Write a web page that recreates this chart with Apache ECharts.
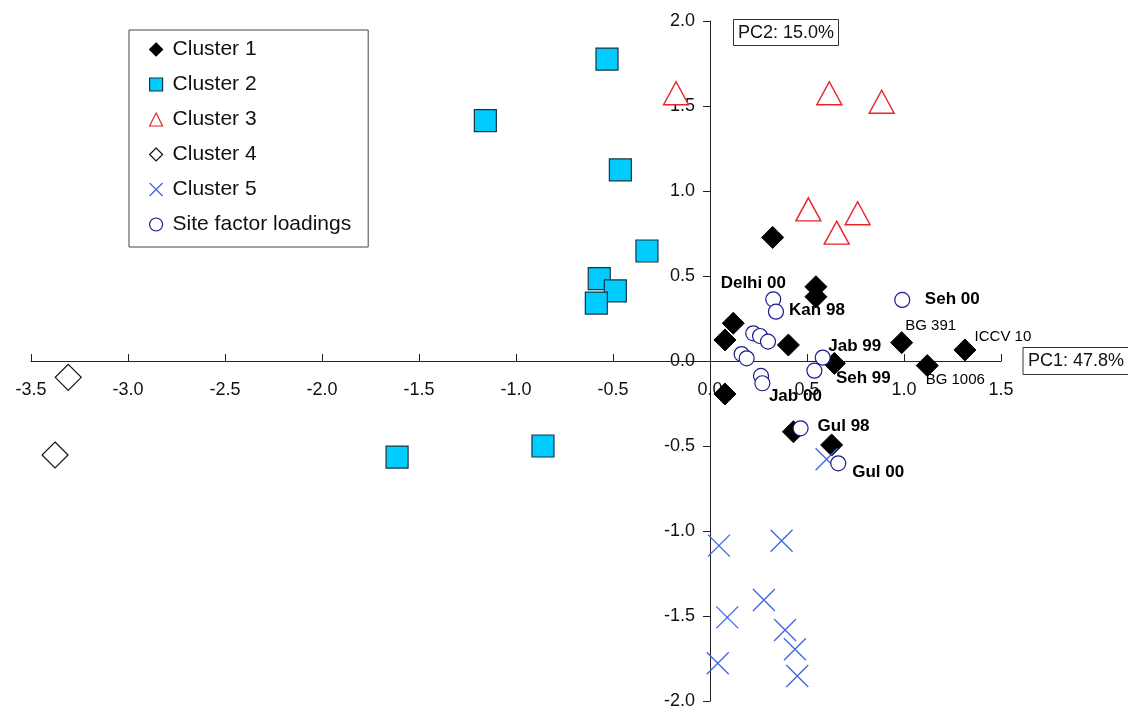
<!DOCTYPE html>
<html>
<head>
<meta charset="utf-8">
<script src="https://cdn.jsdelivr.net/npm/echarts@6/dist/echarts.min.js"></script>
<style>
  html, body { margin: 0; padding: 0; background: #fff; }
  #chart { width: 1128px; height: 708px; }
</style>
</head>
<body>
<div id="chart"></div>
<script>
// PCA scores [PC1, PC2]
const cluster1 = [
  [0.323, 0.727], [0.546, 0.437], [0.546, 0.378], [0.12, 0.222], [0.077, 0.124],
  [0.404, 0.094], [0.641, -0.014], [0.988, 0.108], [1.314, 0.065], [1.12, -0.027],
  [0.077, -0.194], [0.43, -0.416], [0.627, -0.494]
];
const cluster1Names = ['', '', '', '', '', '', '', 'BG 391', 'ICCV 10', 'BG 1006', '', '', ''];

const cluster2 = [
  [-0.531, 1.776], [-1.158, 1.414], [-0.462, 1.124], [-0.325, 0.647], [-0.571, 0.484],
  [-0.488, 0.412], [-0.586, 0.341], [-1.613, -0.565], [-0.861, -0.5]
];

const cluster3 = [
  [-0.175, 1.575], [0.615, 1.575], [0.885, 1.525], [0.507, 0.892], [0.653, 0.755], [0.761, 0.869]
];

const cluster4 = [[-3.308, -0.096], [-3.376, -0.553]];

const cluster5 = [
  [0.046, -1.086], [0.369, -1.057], [0.089, -1.508], [0.278, -1.406], [0.387, -1.582],
  [0.438, -1.696], [0.04, -1.778], [0.45, -1.853], [0.601, -0.578]
];

const siteLoadings = [
  [0.326, 0.363], [0.34, 0.29], [0.991, 0.359], [0.223, 0.163], [0.258, 0.147],
  [0.299, 0.114], [0.163, 0.041], [0.189, 0.016], [0.263, -0.088], [0.27, -0.131],
  [0.581, 0.02], [0.538, -0.057], [0.467, -0.396], [0.661, -0.602]
];
const siteNames = ['Delhi 00', 'Kan 98', 'Seh 00', '', '', '', '', '', '', 'Jab 00',
  'Jab 99', 'Seh 99', 'Gul 98', 'Gul 00'];

const xRange = [-3.5, 1.5];
const yRange = [-2, 2];
const tickStep = 0.5;

// where each point label sits relative to its marker (px)
const labelOffset = {
  'Delhi 00': [-20, -16], 'Kan 98': [41, -1], 'Seh 00': [50, -1],
  'BG 391': [29, -17], 'ICCV 10': [38, -13], 'BG 1006': [28, 14],
  'Jab 99': [32, -11], 'Seh 99': [49, 8], 'Jab 00': [33, 13],
  'Gul 98': [43, -2], 'Gul 00': [40, 9]
};

const FONT = '"Liberation Sans", Arial, Helvetica, sans-serif';
const grid = { left: 31, right: 127, top: 21, bottom: 7 };

function toItems(points, names, bold) {
  return points.map((p, i) => {
    const name = names ? names[i] : '';
    const item = { value: p };
    if (name) {
      item.name = name;
      item.label = {
        show: true,
        position: 'inside',
        formatter: name,
        offset: labelOffset[name],
        color: '#000',
        fontFamily: FONT,
        fontSize: bold ? 17 : 15,
        fontWeight: bold ? 'bold' : 'normal'
      };
    }
    return item;
  });
}

const el = document.getElementById('chart');
const chart = echarts.init(el);

// axes cross at the origin: shift each axis from the grid edge to the zero line
const gridW = el.clientWidth - grid.left - grid.right;
const gridH = el.clientHeight - grid.top - grid.bottom;
const xAxisShift = -gridH * (0 - yRange[0]) / (yRange[1] - yRange[0]);
const yAxisShift = -gridW * (0 - xRange[0]) / (xRange[1] - xRange[0]);

const boxText = {
  fontSize: 18,
  color: '#111',
  fontFamily: FONT,
  borderColor: '#333',
  borderWidth: 1,
  padding: [5, 5, 4, 5]
};

const option = {
  animation: false,
  backgroundColor: '#fff',
  textStyle: { fontFamily: FONT },
  title: {
    text: 'PC2: 15.0%',
    left: 733,
    top: 19,
    padding: [5, 5, 4, 5],
    borderColor: '#333',
    borderWidth: 1,
    textStyle: { fontSize: 18, fontWeight: 'normal', color: '#111', fontFamily: FONT }
  },
  grid: Object.assign({ containLabel: false, outerBoundsMode: 'none' }, grid),
  legend: {
    orient: 'vertical',
    left: 129,
    top: 30,
    padding: [9, 17, 12, 20],
    itemWidth: 13,
    itemHeight: 13,
    itemGap: 14,
    borderColor: '#444',
    borderWidth: 1,
    itemStyle: { borderWidth: 1.2 },
    textStyle: { fontSize: 21, color: '#111', fontFamily: FONT, lineHeight: 20, padding: [0, 0, 0, 5] },
    data: ['Cluster 1', 'Cluster 2', 'Cluster 3', 'Cluster 4', 'Cluster 5', 'Site factor loadings']
  },
  xAxis: {
    type: 'value',
    min: xRange[0],
    max: xRange[1],
    interval: tickStep,
    position: 'bottom',
    offset: xAxisShift,
    axisLine: { onZero: false, lineStyle: { color: '#222', width: 1 } },
    axisTick: { inside: true, length: 7, lineStyle: { color: '#222' } },
    axisLabel: {
      margin: 20,
      fontSize: 18,
      color: '#111',
      fontFamily: FONT,
      formatter: (v) => v.toFixed(1)
    },
    splitLine: { show: false },
    name: 'PC1: 47.8%',
    nameLocation: 'end',
    nameGap: 22,
    nameTextStyle: boxText
  },
  yAxis: {
    type: 'value',
    min: yRange[0],
    max: yRange[1],
    interval: tickStep,
    position: 'left',
    offset: yAxisShift,
    axisLine: { onZero: false, lineStyle: { color: '#222', width: 1 } },
    axisTick: { inside: false, length: 7, lineStyle: { color: '#222' } },
    axisLabel: {
      margin: 15,
      fontSize: 18,
      color: '#111',
      fontFamily: FONT,
      formatter: (v) => v.toFixed(1)
    },
    splitLine: { show: false }
  },
  series: [
    {
      name: 'Cluster 1',
      type: 'scatter',
      symbol: 'diamond',
      symbolSize: 22,
      itemStyle: { color: '#000', borderColor: '#000', borderWidth: 1, opacity: 1 },
      data: toItems(cluster1, cluster1Names, false)
    },
    {
      name: 'Cluster 2',
      type: 'scatter',
      symbol: 'rect',
      symbolSize: 22,
      itemStyle: { color: '#00ccff', borderColor: '#1b3340', borderWidth: 1.2, opacity: 1 },
      data: toItems(cluster2)
    },
    {
      name: 'Cluster 3',
      type: 'scatter',
      symbol: 'triangle',
      symbolSize: [25, 23],
      itemStyle: { color: '#fff', borderColor: '#e8232b', borderWidth: 1.4, opacity: 1 },
      data: toItems(cluster3)
    },
    {
      name: 'Cluster 4',
      type: 'scatter',
      symbol: 'diamond',
      symbolSize: 26,
      itemStyle: { color: '#fff', borderColor: '#111', borderWidth: 1.2, opacity: 1 },
      data: toItems(cluster4)
    },
    {
      name: 'Cluster 5',
      type: 'scatter',
      symbol: 'path://M0,0L20,20M20,0L0,20',
      symbolSize: 22,
      itemStyle: { color: 'transparent', borderColor: '#3d66e0', borderWidth: 1.3, opacity: 1 },
      data: toItems(cluster5)
    },
    {
      name: 'Site factor loadings',
      type: 'scatter',
      symbol: 'circle',
      symbolSize: 15,
      itemStyle: { color: '#fff', borderColor: '#1c1c8f', borderWidth: 1.2, opacity: 1 },
      data: toItems(siteLoadings, siteNames, true)
    }
  ]
};

chart.setOption(option);
window.addEventListener('resize', () => chart.resize());
</script>
</body>
</html>
